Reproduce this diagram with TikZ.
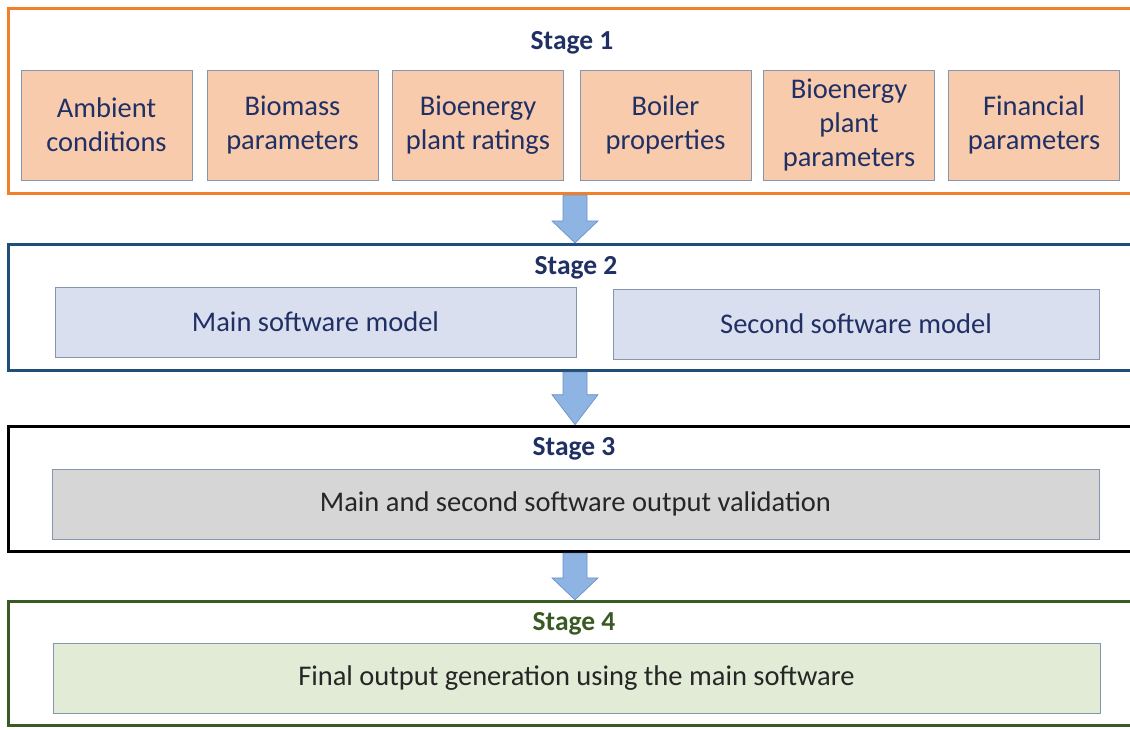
\documentclass[tikz,border=0pt]{standalone}
\usepackage{fontspec}
\setmainfont{Carlito}
\usetikzlibrary{calc}

\definecolor{stageorange}{RGB}{240,128,42}
\definecolor{stageblue}{RGB}{31,78,121}
\definecolor{stagegreen}{RGB}{58,90,36}
\definecolor{peach}{RGB}{248,203,173}
\definecolor{lavender}{RGB}{218,223,240}
\definecolor{lightgray}{RGB}{214,214,214}
\definecolor{palegreen}{RGB}{226,235,214}
\definecolor{boxedge}{RGB}{132,151,176}
\definecolor{navytext}{RGB}{32,48,100}
\definecolor{darktext}{RGB}{38,38,38}
\definecolor{arrowfill}{RGB}{142,180,227}
\definecolor{arrowedge}{RGB}{110,145,200}

% block arrow from the bottom of one stage frame to the top of the next
\newcommand{\stagearrow}[3]{%
  \draw[blockarrow] let \p1=(#1.south), \p2=(#2.north) in
    (\x1-12pt,\y1) -- (\x1+12pt,\y1) -- (\x1+12pt,\y2+#3) -- (\x1+23pt,\y2+#3)
    -- (\x1,\y2) -- (\x1-23pt,\y2+#3) -- (\x1-12pt,\y2+#3) -- cycle;}

\begin{document}
\begin{tikzpicture}[x=1pt,y=-1pt,
  stageframe/.style={draw=#1, line width=3.2pt, rectangle, inner sep=0pt,
    minimum width=1133pt},
  stagetitle/.style={font=\fontsize{27.5}{32}\selectfont\bfseries, text=#1},
  itembox/.style={draw=boxedge, line width=0.8pt, fill=#1, rectangle,
    inner sep=0pt, align=center, font=\fontsize{28.5}{34}\selectfont},
  blockarrow/.style={fill=arrowfill, draw=arrowedge, line width=0.7pt, line join=miter},
]
\useasboundingbox (0,0) rectangle (1130,729);
\fill[white] (0,0) rectangle (1130,729);
\clip (0,0) rectangle (1130,729);

% stage frames (they run past the right edge of the page)
\node[stageframe=stageorange, minimum height=185pt] (f1) at (575,101) {};
\node[stageframe=stageblue, minimum height=126pt] (f2) at (575,307.5) {};
\node[stageframe=black, line width=3.6pt, minimum height=125pt] (f3) at (575,489) {};
\node[stageframe=stagegreen, minimum height=124pt] (f4) at (575,663.5) {};

% stage titles
\node[stagetitle=navytext] (t1) at (572,43) {Stage 1};
\node[stagetitle=navytext] (t2) at (576,268) {Stage 2};
\node[stagetitle=navytext] (t3) at (574,449) {Stage 3};
\node[stagetitle=stagegreen] (t4) at (574,624) {Stage 4};

% stage 1 inputs
\begin{scope}[every node/.style={itembox=peach, text=navytext,
    minimum width=171pt, minimum height=110pt}]
  \node (b1) at (106.5,125) {Ambient\\conditions};
  \node (b2) at (292.5,125) {Biomass\\parameters};
  \node (b3) at (478,125) {Bioenergy\\plant ratings};
  \node (b4) at (665.5,125) {Boiler\\properties};
  \node (b5) at (849,125) {Bioenergy\\plant\\parameters};
  \node (b6) at (1034,125) {Financial\\parameters};
\end{scope}

% stage 2 models
\node[itembox=lavender, text=navytext, minimum width=521pt, minimum height=70pt]
  (m1) at (315.5,322) {Main software model};
\node[itembox=lavender, text=navytext, minimum width=486pt, minimum height=70pt]
  (m2) at (856,324) {Second software model};

% stage 3 validation
\node[itembox=lightgray, text=darktext, minimum width=1047pt, minimum height=70pt]
  (v1) at (575.5,504) {Main and second software output validation};

% stage 4 final output
\node[itembox=palegreen, text=darktext, minimum width=1047pt, minimum height=70pt]
  (o1) at (576.5,678) {Final output generation using the main software};

% arrows between stages
\stagearrow{f1}{f2}{22pt}
\stagearrow{f2}{f3}{30pt}
\stagearrow{f3}{f4}{22pt}
\end{tikzpicture}
\end{document}
